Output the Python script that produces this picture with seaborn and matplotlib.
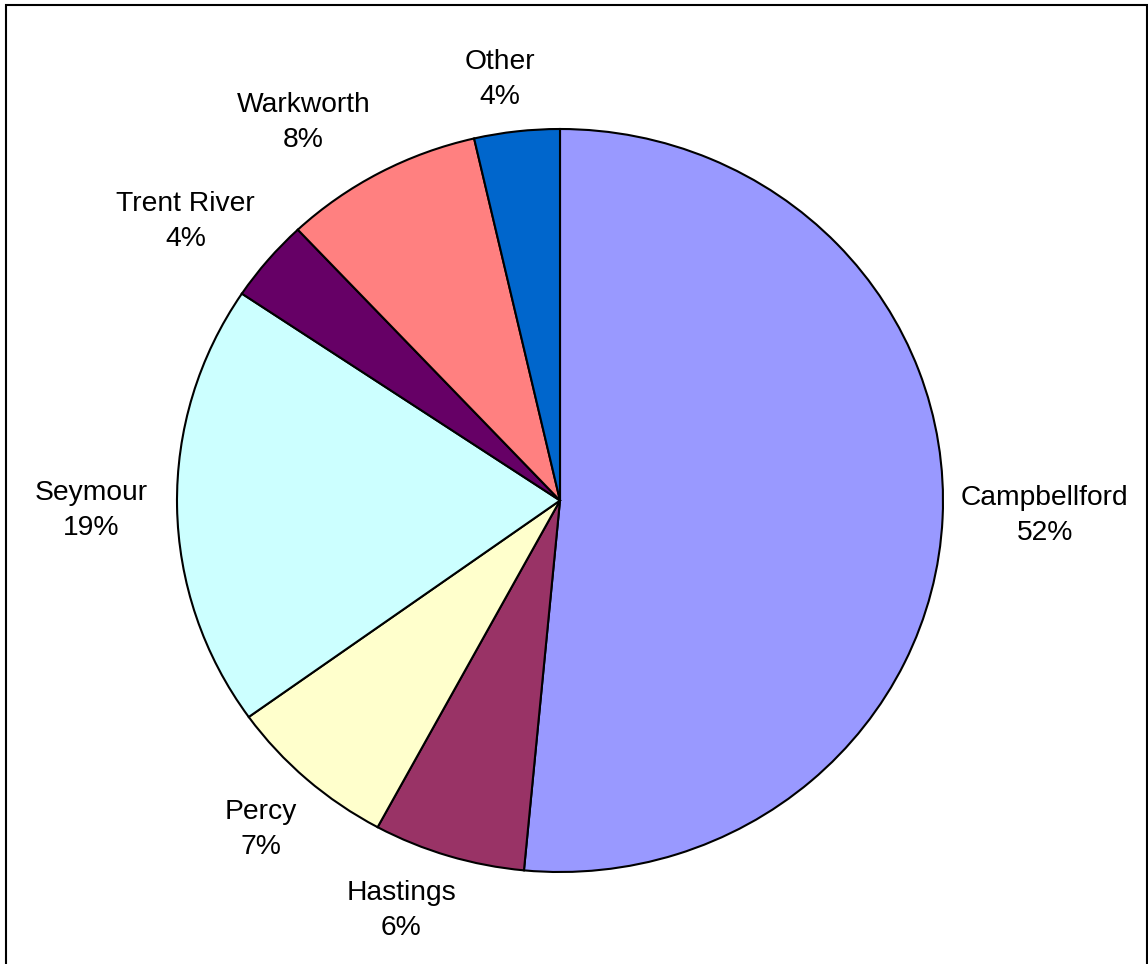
import numpy as np
import pandas as pd
import seaborn as sns
import matplotlib.pyplot as plt
from matplotlib.patches import Rectangle

# slice data, clockwise from 12 o'clock
regions = ['Campbellford', 'Hastings', 'Percy', 'Seymour', 'Trent River', 'Warkworth', 'Other']
shares = [51.5, 6.4, 7.2, 19.3, 3.6, 8.4, 3.6]
colors = ['#9999FF', '#993366', '#FFFFCC', '#CCFFFF', '#660066', '#FF8080', '#0066CC']
# label placement (Excel puts them a bit unevenly): distance in radii, angle nudge in degrees
label_r = [1.266, 1.178, 1.182, 1.225, 1.233, 1.218, 1.143]
label_dtheta = [0.9, -3.7, 0.0, 0.3, 2.8, 5.3, 1.4]

sns.set_theme(style='white')
plt.rcParams['font.family'] = ['Liberation Sans', 'DejaVu Sans']

df = pd.DataFrame({'region': regions, 'share': shares})
labels = [f"{r}\n{int(round(s))}%" for r, s in zip(df['region'], df['share'])]

fig = plt.figure(figsize=(11.48, 9.64), dpi=100)
ax = fig.add_axes([0, 0, 1, 1])

wedges, texts = ax.pie(
    df['share'], labels=labels, colors=colors, startangle=90, counterclock=False,
    labeldistance=1.19, wedgeprops=dict(edgecolor='black', linewidth=1.5),
    textprops=dict(fontsize=20.3, color='black'))

for w, t, r, dt in zip(wedges, texts, label_r, label_dtheta):
    mid = np.deg2rad((w.theta1 + w.theta2) / 2 + dt)
    t.set_position((r * np.cos(mid), r * np.sin(mid)))
    t.set_ha('center')
    t.set_va('center')
    t.set_linespacing(1.45)

# Excel-style slightly stretched pie
ax.set_aspect('auto')
ax.set_xlim(-560 / 383, (1148 - 560) / 383)
ax.set_ylim(-(964 - 500.5) / 371.5, 500.5 / 371.5)
ax.axis('off')

# chart area border
fig.patches.append(Rectangle((6 / 1148, -0.01), 1141 / 1148, 1.01 - 5 / 964,
                             transform=fig.transFigure, fill=False,
                             edgecolor='black', linewidth=1.5))

fig.savefig('out.png', dpi=100)
